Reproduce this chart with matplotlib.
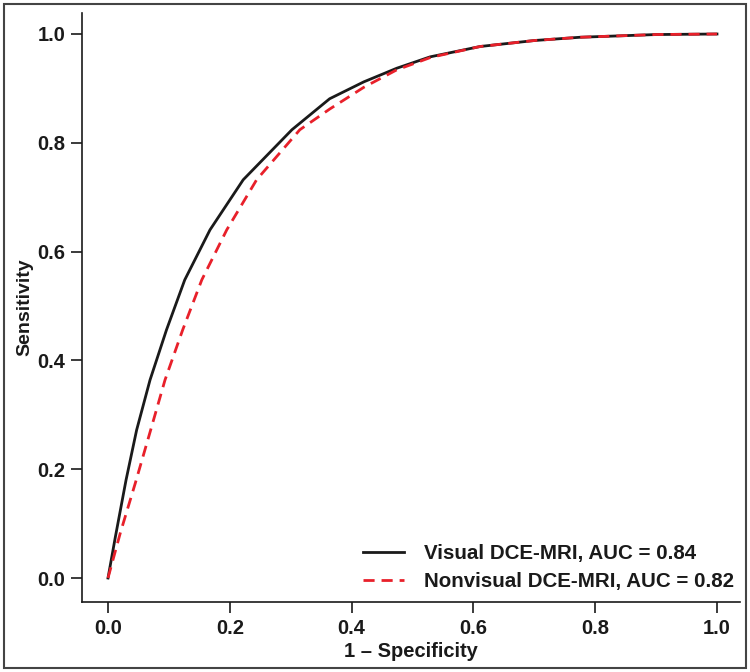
import matplotlib
matplotlib.use("Agg")
import matplotlib.pyplot as plt
from matplotlib.patches import Rectangle

# Data
visual_fpr = [0.0, 0.012, 0.0296, 0.047, 0.069, 0.096, 0.126, 0.1675, 0.222, 0.302, 0.364, 0.42, 0.474, 0.529, 0.611, 0.70, 0.775, 0.90, 1.0]
visual_tpr = [0.0, 0.075, 0.180, 0.272, 0.364, 0.456, 0.548, 0.640, 0.732, 0.824, 0.881, 0.912, 0.937, 0.958, 0.977, 0.988, 0.994, 0.999, 1.0]

nonvisual_fpr = [0.0, 0.020, 0.045, 0.069, 0.0936, 0.1226, 0.154, 0.195, 0.244, 0.315, 0.364, 0.42, 0.474, 0.53, 0.611, 0.70, 0.775, 0.90, 1.0]
nonvisual_tpr = [0.0, 0.082, 0.175, 0.268, 0.364, 0.456, 0.548, 0.640, 0.732, 0.824, 0.862, 0.902, 0.934, 0.957, 0.977, 0.988, 0.994, 0.999, 1.0]

labels = ["Visual DCE-MRI, AUC = 0.84", "Nonvisual DCE-MRI, AUC = 0.82"]
ticks = [0.0, 0.2, 0.4, 0.6, 0.8, 1.0]
tick_labels = ["0.0", "0.2", "0.4", "0.6", "0.8", "1.0"]

plt.rcParams['font.family'] = ['Liberation Sans', 'DejaVu Sans']
plt.rcParams['font.weight'] = 'bold'

fig = plt.figure(figsize=(7.5, 6.72), dpi=100)
ax = fig.add_axes([82/750, 1-602/672, (740-82)/750, (602-13)/672])

ax.plot(visual_fpr, visual_tpr, color='#1a1a1a', lw=2.0, label=labels[0],
        solid_joinstyle='round')
ax.plot(nonvisual_fpr, nonvisual_tpr, color='#e8202a', lw=2.0, ls=(0, (4, 2.5)),
        label=labels[1])

ax.set_xlim(-0.0427, 1.0378)
ax.set_ylim(-0.0441, 1.0386)
ax.set_xticks(ticks)
ax.set_xticklabels(tick_labels)
ax.set_yticks(ticks)
ax.set_yticklabels(tick_labels)
ax.tick_params(direction='out', length=8, width=1.2, labelsize=14.5, pad=4,
               color='#1a1a1a', labelcolor='#1a1a1a')
for lab in ax.get_xticklabels() + ax.get_yticklabels():
    lab.set_fontweight('bold')

for s in ['top', 'right']:
    ax.spines[s].set_visible(False)
for s in ['left', 'bottom']:
    ax.spines[s].set_linewidth(1.2)
    ax.spines[s].set_color('#1a1a1a')

ax.set_xlabel("1 \u2013 Specificity", fontsize=14.5, fontweight='bold', color='#1a1a1a', labelpad=3)
ax.set_ylabel("Sensitivity", fontsize=14, fontweight='bold', color='#1a1a1a', labelpad=3)

leg = ax.legend(loc='lower right', frameon=False, fontsize=14.8, handlelength=2.0,
                handletextpad=1.0, labelspacing=0.45, borderaxespad=0.0,
                bbox_to_anchor=(1.004, 0.004))
for t in leg.get_texts():
    t.set_fontweight('bold')
    t.set_color('#1a1a1a')

fig.patches.append(Rectangle((4/750, 4/672), 742/750, 664/672, transform=fig.transFigure,
                             fill=False, edgecolor='#444444', lw=1.5))

fig.savefig("out.png", dpi=100)
